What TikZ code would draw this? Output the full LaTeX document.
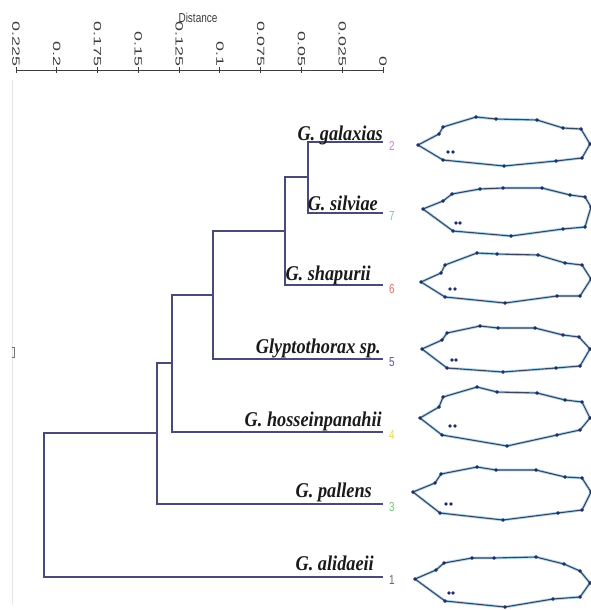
\documentclass[tikz,border=0pt]{standalone}
\usepackage{graphicx}
\usepackage{fontspec}
\setmainfont{Liberation Serif}
\setsansfont{Liberation Sans}

\definecolor{treeblue}{HTML}{4A4A78}
\definecolor{axisgray}{HTML}{3C3C3C}
\definecolor{labelink}{HTML}{1A1A1A}
\definecolor{halo}{HTML}{B2DAF0}
\definecolor{contour}{HTML}{3A465E}
\definecolor{landmark}{HTML}{1E2D6B}
\definecolor{numpink}{HTML}{D080D0}
\definecolor{numcyan}{HTML}{70CCCC}
\definecolor{numred}{HTML}{E07060}
\definecolor{numblue}{HTML}{555599}
\definecolor{numyellow}{HTML}{E8D850}
\definecolor{numgreen}{HTML}{70C870}
\definecolor{numgray}{HTML}{666666}

% outline of one specimen: soft halo, dark contour, landmark dots
\newcommand{\specimen}[3]{%
  \draw[halo, line width=2.8pt, line join=round] plot coordinates {#1} -- cycle;
  \draw[contour, line width=1.1pt, line join=round] plot coordinates {#1} -- cycle;
  \fill[landmark] plot[mark=*, mark size=1.5pt, only marks] coordinates {#1};
  \fill[landmark] #2 circle (1.8pt) #3 circle (1.8pt);
}

\begin{document}
\begin{tikzpicture}[x=1pt, y=-1pt,
  branch/.style={draw=treeblue, line width=1.4pt},
  taxon/.style={anchor=base east, inner sep=0pt, text=labelink,
    font=\fontsize{21}{22}\selectfont\bfseries\itshape},
  clusterno/.style={inner sep=0pt, font=\sffamily\fontsize{10}{11}\selectfont},
  ticklabel/.style={rotate=-90, anchor=east, inner sep=0pt, text=axisgray,
    font=\sffamily\fontsize{10.5}{11}\selectfont}]

\useasboundingbox (0,0) rectangle (591,610);
\clip (0,0) rectangle (591,610);
\fill[white] (0,0) rectangle (591,610);

% ---- distance scale ----
\coordinate (axL) at (16,70);
\coordinate (axR) at (383,70);
\draw[axisgray, line width=0.9pt] (axL) -- (axR);
\foreach \lab [count=\i from 0] in {0.225,0.2,0.175,0.15,0.125,0.1,0.075,0.05,0.025,0} {
  \draw[axisgray, line width=0.9pt] ({16+\i*40.78},67) -- ({16+\i*40.78},73);
  \node[ticklabel] (tick\i) at ({16+\i*40.78},66.5) {\scalebox{1.7}[1]{\lab}};
}
\node[inner sep=0pt, text=axisgray, font=\sffamily\fontsize{10}{11}\selectfont]
  (distance) at (198,18) {\scalebox{1}[1.3]{Distance}};

% faint left frame line and its small mark
\draw[black!10, line width=0.6pt] (12,80) -- (12,605);
\draw[black!55, line width=0.7pt] (11.5,347.5) -- (14.5,347.5) -- (14.5,357.5) -- (11.5,357.5);

% ---- dendrogram ----
\coordinate (t2) at (383,142);
\coordinate (t7) at (383,213);
\coordinate (t6) at (383,285);
\coordinate (t5) at (383,359);
\coordinate (t4) at (383,432);
\coordinate (t3) at (383,504);
\coordinate (t1) at (383,577);

\coordinate (c1) at (308,177);
\coordinate (c2) at (285,231);
\coordinate (c3) at (213,295);
\coordinate (c4) at (172,363);
\coordinate (c5) at (157,433);
\coordinate (root) at (44,505);

\draw[branch] (t2) -| (c1) |- (t7);
\draw[branch] (c1) -| (c2) |- (t6);
\draw[branch] (c2) -| (c3) |- (t5);
\draw[branch] (c3) -| (c4) |- (t4);
\draw[branch] (c4) -| (c5) |- (t3);
\draw[branch] (c5) -| (root) |- (t1);

\node[taxon] (galaxias) at (383,140) {\scalebox{0.87}[1]{G. galaxias}};
\node[taxon] (silviae) at (378,210.5) {\scalebox{0.87}[1]{G. silviae}};
\node[taxon] (shapurii) at (371,280.5) {\scalebox{0.87}[1]{G. shapurii}};
\node[taxon] (glypto) at (381,353.5) {\scalebox{0.87}[1]{Glyptothorax sp.}};
\node[taxon] (hossein) at (382,426) {\scalebox{0.87}[1]{G. hosseinpanahii}};
\node[taxon] (pallens) at (372,497) {\scalebox{0.87}[1]{G. pallens}};
\node[taxon] (alidaeii) at (374,570) {\scalebox{0.87}[1]{G. alidaeii}};

% cluster numbers
\node[clusterno, text=numpink] (k2) at (392,146) {\scalebox{1}[1.3]{2}};
\node[clusterno, text=numcyan] (k7) at (392,216) {\scalebox{1}[1.3]{7}};
\node[clusterno, text=numred] (k6) at (392,289) {\scalebox{1}[1.3]{6}};
\node[clusterno, text=numblue] (k5) at (392,362) {\scalebox{1}[1.3]{5}};
\node[clusterno, text=numyellow] (k4) at (392,435) {\scalebox{1}[1.3]{4}};
\node[clusterno, text=numgreen] (k3) at (392,507) {\scalebox{1}[1.3]{3}};
\node[clusterno, text=numgray] (k1) at (392,580) {\scalebox{1}[1.3]{1}};

% ---- specimen outlines ----
\specimen{(418,145) (439,134) (443,127) (476,117) (496,119) (537,120) (563,128) (581,129) (590,144) (582,158) (556,161) (504,166) (443,160)}{(448,152)}{(453,152)}
\specimen{(423,209) (443,201) (452,194) (480,189) (503,188) (542,188) (570,195) (585,197) (591,207) (585,227) (563,229) (511,236) (453,231)}{(456,223)}{(460,223)}
\specimen{(421,282) (441,273) (445,265) (477,253) (497,254) (538,255) (565,263) (582,265) (591,279) (580,296) (557,296) (505,303) (445,297)}{(450,289)}{(455,289)}
\specimen{(422,349) (442,340) (447,333) (480,326) (498,328) (535,328) (563,335) (579,337) (590,349) (580,366) (556,368) (503,372) (447,368)}{(452,360)}{(456,360)}
\specimen{(420,418) (439,407) (443,397) (477,387) (497,392) (537,393) (565,400) (582,402) (590,418) (580,430) (557,435) (507,446) (442,435)}{(450,426)}{(455,426)}
\specimen{(413,492) (435,483) (441,474) (477,467) (496,470) (536,470) (565,477) (582,478) (591,492) (582,510) (558,513) (503,520) (440,513)}{(446,504)}{(451,504)}
\specimen{(415,579) (436,570) (444,563) (472,558) (494,558) (536,557) (564,564) (580,571) (590,583) (580,597) (553,599) (505,607) (445,601)}{(449,593)}{(453,593)}

\end{tikzpicture}
\end{document}
